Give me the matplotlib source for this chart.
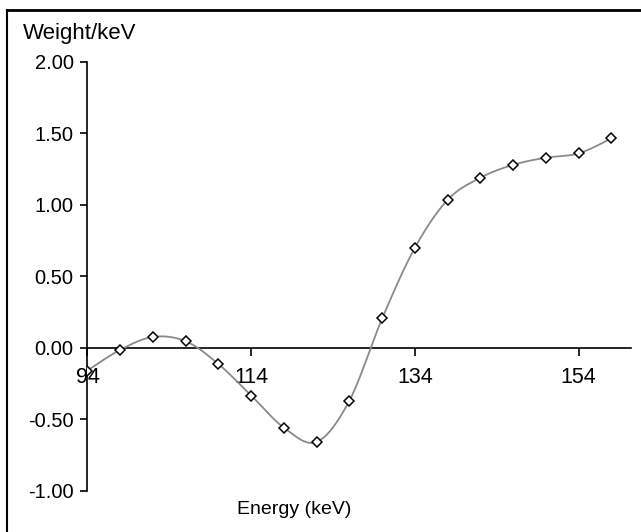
import numpy as np
import matplotlib
matplotlib.use('Agg')
import matplotlib.pyplot as plt
from matplotlib.lines import Line2D

plt.rcParams['font.family'] = ['Liberation Sans', 'DejaVu Sans']

# 数据
energy = [94, 98, 102, 106, 110, 114, 118, 122, 126, 130, 134, 138, 142, 146, 150, 154, 158]
weight = [-0.16, -0.015, 0.075, 0.045, -0.115, -0.335, -0.56, -0.66, -0.37, 0.205,
          0.70, 1.035, 1.19, 1.28, 1.33, 1.36, 1.465]
x_ticks = [94, 114, 134, 154]
y_ticks = [-1.0, -0.5, 0.0, 0.5, 1.0, 1.5, 2.0]


def smooth_curve(xs, ys, n=30):
    # 类似 Excel 平滑线：Catmull-Rom 贝塞尔
    xs = np.asarray(xs, float)
    ys = np.asarray(ys, float)
    px = np.concatenate([[xs[0]], xs, [xs[-1]]])
    py = np.concatenate([[ys[0]], ys, [ys[-1]]])
    out_x, out_y = [], []
    t = np.linspace(0, 1, n)
    for i in range(1, len(px) - 2):
        p0 = np.array([px[i], py[i]])
        p3 = np.array([px[i + 1], py[i + 1]])
        c1 = p0 + (np.array([px[i + 1], py[i + 1]]) - np.array([px[i - 1], py[i - 1]])) / 6
        c2 = p3 - (np.array([px[i + 2], py[i + 2]]) - np.array([px[i], py[i]])) / 6
        b = ((1 - t) ** 3)[:, None] * p0 + (3 * (1 - t) ** 2 * t)[:, None] * c1 \
            + (3 * (1 - t) * t ** 2)[:, None] * c2 + (t ** 3)[:, None] * p3
        out_x.extend(b[:, 0])
        out_y.extend(b[:, 1])
    return out_x, out_y


fig = plt.figure(figsize=(6.41, 5.32), dpi=100)
ax = fig.add_axes([0.1365, 0.078, 0.848, 0.8055])

sx, sy = smooth_curve(energy, weight)
ax.plot(sx, sy, color='#8a8a8a', linewidth=1.3, zorder=2)
ax.plot(energy, weight, linestyle='none', marker='D', markersize=5.5,
        markerfacecolor='white', markeredgecolor='black', markeredgewidth=1.1, zorder=3)

ax.set_xlim(94, 160.4)
ax.set_ylim(-1.0, 2.0)
ax.set_xticks(x_ticks)
ax.set_yticks(y_ticks)
ax.set_yticklabels([f'{v:.2f}' for v in y_ticks])

ax.spines['top'].set_visible(False)
ax.spines['right'].set_visible(False)
ax.spines['bottom'].set_position(('data', 0))
for s in ['left', 'bottom']:
    ax.spines[s].set_linewidth(1.2)
    ax.spines[s].set_zorder(1)

ax.tick_params(axis='y', direction='out', length=5, width=1.2, pad=5, labelsize=14.5)
ax.tick_params(axis='x', direction='out', length=6, width=1.2, pad=8, labelsize=15.5)
for lbl in ax.get_xticklabels():
    lbl.set_zorder(4)

fig.text(23 / 641, 1 - 33 / 532, 'Weight/keV', fontsize=16, ha='left', va='center')
fig.text(294 / 641, 1 - 510 / 532, 'Energy (keV)', fontsize=14, ha='center', va='center')

# 外框（仅上、左）
fig.add_artist(Line2D([7 / 641, 1], [1 - 10 / 532, 1 - 10 / 532], color='black',
                      linewidth=2, transform=fig.transFigure))
fig.add_artist(Line2D([7 / 641, 7 / 641], [0, 1 - 10 / 532], color='black',
                      linewidth=1.5, transform=fig.transFigure))

fig.savefig('out.png', dpi=100)
plt.close(fig)
